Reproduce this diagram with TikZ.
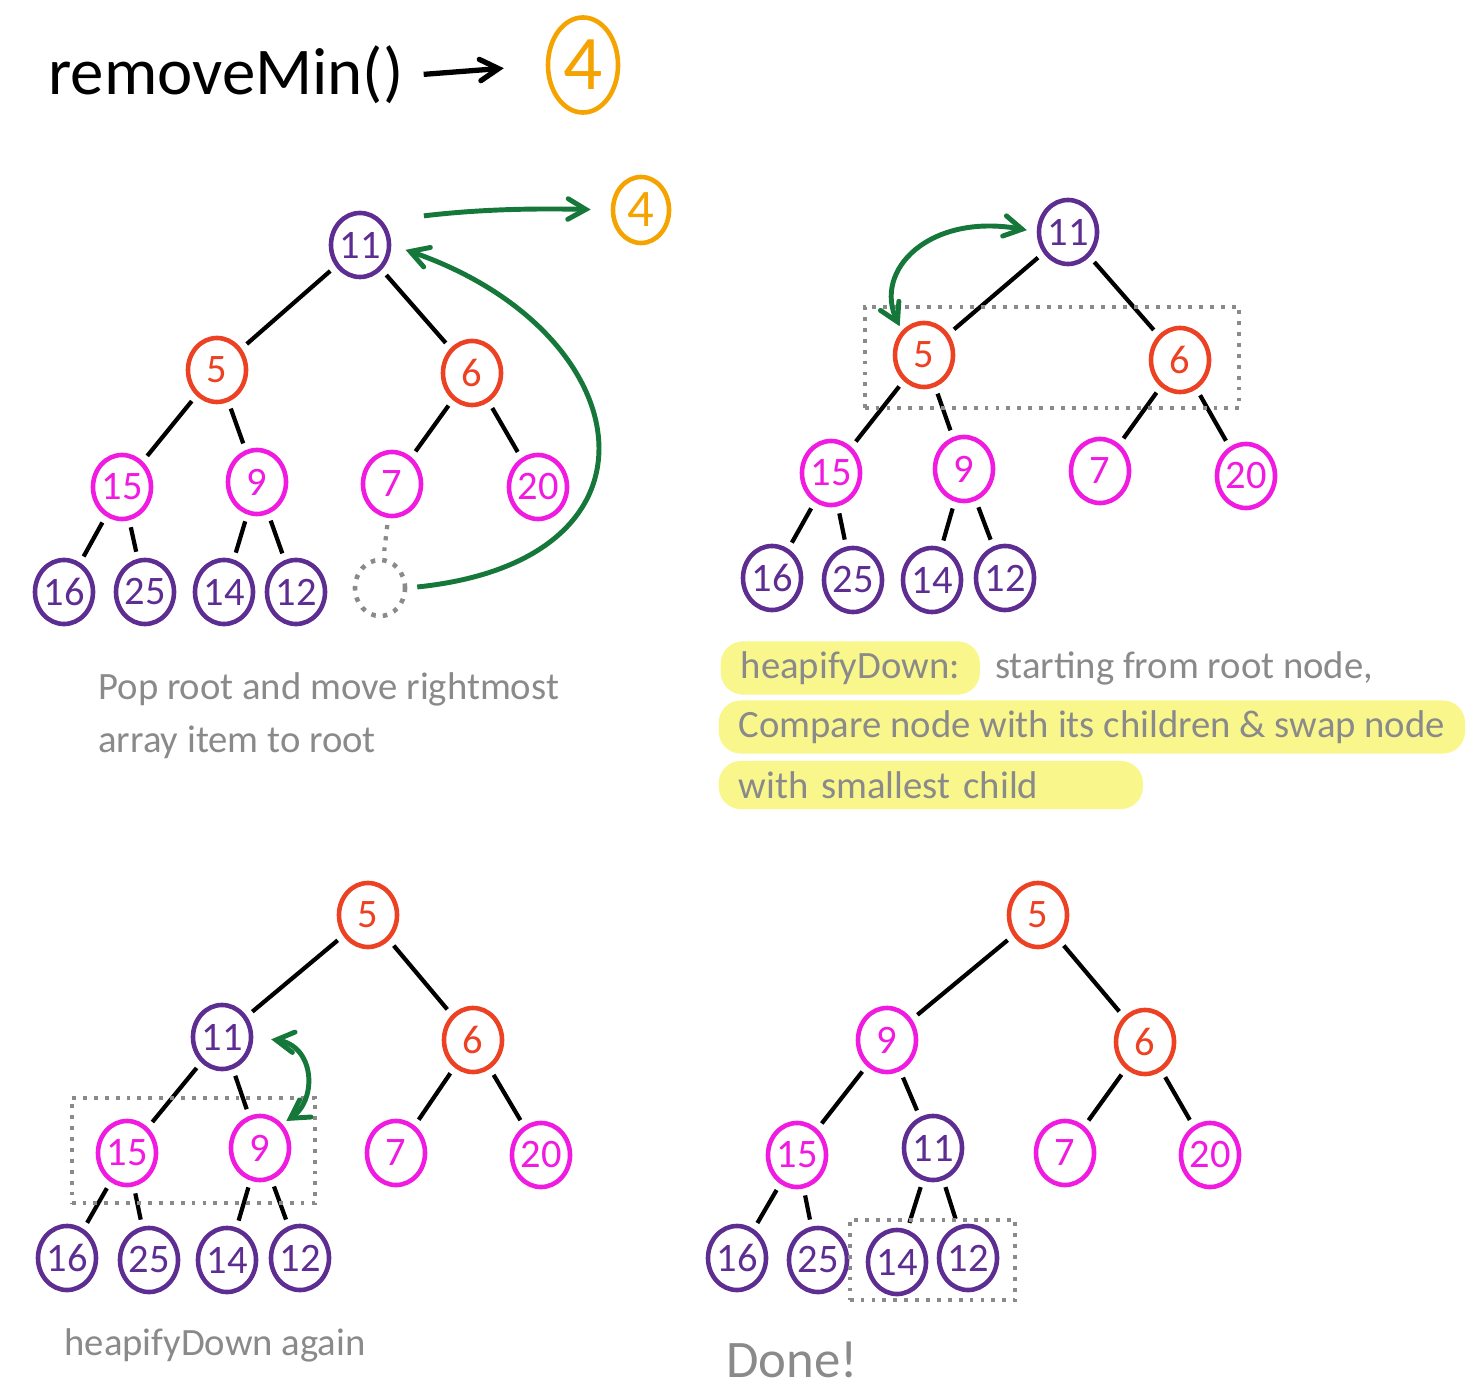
\documentclass[tikz,border=0pt]{standalone}
\usepackage{fontspec}
\setmainfont{Carlito}
\usetikzlibrary{positioning, arrows, shapes.geometric, fit}
\definecolor{minpurple}{HTML}{5E2D91}
\definecolor{minred}{HTML}{EC4123}
\definecolor{minpink}{HTML}{F01AE0}
\definecolor{minorange}{HTML}{F5A300}
\definecolor{mingreen}{HTML}{16773A}
\definecolor{notegray}{HTML}{8A8A8A}
\definecolor{hlyellow}{HTML}{F9F78C}
\tikzset{
>=angle 60, % open arrow heads, like the pen ones
heap/.style={ellipse, draw, line width=1.3pt, minimum width=0.58cm, minimum height=0.64cm, inner sep=0pt, font=\fontsize{11.5}{12}\selectfont}, % every number of the heap
purplenode/.style={heap, draw=minpurple, text=minpurple},
rednode/.style={heap, draw=minred, text=minred},
pinknode/.style={heap, draw=minpink, text=minpink},
popped/.style={heap, draw=minorange, text=minorange}, % the removed minimum
tree/.style={line width=1.2pt, shorten <=2pt, shorten >=2pt}, % parent -- child
swaparrow/.style={->, draw=mingreen, line width=1.4pt}, % green moves
dotbox/.style={draw=notegray, dotted, line width=1.1pt, inner sep=0pt}, % compared nodes
note/.style={text=notegray, font=\fontsize{11}{15}\selectfont}, % grey remarks
hl/.style={fill=hlyellow, rounded corners=0.22cm, inner xsep=0.2cm, inner ysep=0.1cm, minimum height=0.48cm}, % marker pen
}
\begin{document}
\begin{tikzpicture}[x=0.01cm, y=-0.01cm]
    \useasboundingbox (0,0) rectangle (1477,1398);

    % title
    \node[anchor=west, font=\fontsize{19}{19}\selectfont] (title) at (36,75) {removeMin()};
    \node[popped, minimum width=0.7cm, minimum height=0.95cm, font=\fontsize{22}{22}\selectfont] (t4) at (583,65) {4};
    \draw[->, line width=1.5pt, shorten <=0.08cm, shorten >=0.42cm] (title.east) -- (t4.west);

    % pop root, move last item up
    \node[purplenode] (a1) at (360,245) {11};
    \node[rednode] (a2) at (217,370) {5};
    \node[rednode] (a3) at (472,373) {6};
    \node[pinknode] (a4) at (122,487) {15};
    \node[pinknode] (a5) at (257,482) {9};
    \node[pinknode] (a6) at (392,484) {7};
    \node[pinknode] (a7) at (538,487) {20};
    \node[purplenode] (a8) at (64,592) {16};
    \node[purplenode] (a9) at (145,592) {25};
    \node[purplenode] (a10) at (224,592) {14};
    \node[purplenode] (a11) at (296,592) {12};
    \node[heap, draw=notegray, dotted, minimum width=0.5cm, minimum height=0.56cm] (a12) at (380,588) {};
    \node[popped, minimum width=0.56cm, minimum height=0.66cm, font=\fontsize{15}{15}\selectfont] (aout) at (641,210) {4};

    \draw[tree]
    (a1) edge (a2) (a1) edge (a3)
    (a2) edge (a4) (a2) edge (a5)
    (a3) edge (a6) (a3) edge (a7)
    (a4) edge (a8) (a4) edge (a9)
    (a5) edge (a10) (a5) edge (a11);
    \draw[tree, notegray, dotted] (a6) -- (a12);

    \draw[swaparrow, shorten <=0.42cm, shorten >=0.2cm] (a1.north east) to[bend left=4] (aout.west);
    \draw[swaparrow, shorten <=0.1cm, shorten >=0.15cm] (a12.east) .. controls (680,560) and (640,330) .. (a1.east);

    \node[note, anchor=north west, align=left] (poptext) at (86,660) {Pop root and move rightmost\\array item to root};

    % first heapifyDown step
    \node[purplenode] (b1) at (1068,232) {11};
    \node[rednode] (b2) at (924,355) {5};
    \node[rednode] (b3) at (1180,360) {6};
    \node[pinknode] (b4) at (831,473) {15};
    \node[pinknode] (b5) at (964,469) {9};
    \node[pinknode] (b6) at (1100,471) {7};
    \node[pinknode] (b7) at (1246,476) {20};
    \node[purplenode] (b8) at (772,578) {16};
    \node[purplenode] (b9) at (853,580) {25};
    \node[purplenode] (b10) at (932,580) {14};
    \node[purplenode] (b11) at (1005,578) {12};

    \draw[tree]
    (b1) edge (b2) (b1) edge (b3)
    (b2) edge (b4) (b2) edge (b5)
    (b3) edge (b6) (b3) edge (b7)
    (b4) edge (b8) (b4) edge (b9)
    (b5) edge (b10) (b5) edge (b11);

    \node[dotbox, fit=(b2)(b3), inner xsep=0.28cm, inner ysep=0.14cm] (bbox) {};
    \draw[swaparrow, <->, shorten <=0.1cm, shorten >=0.05cm] (b1.west) .. controls (930,212) and (872,270) .. (b2.north west);

    \node[note, hl, anchor=west] (hl1) at (720,668) {heapifyDown:};
    \node[note, right=0.02cm of hl1] (start) {starting from root node,};
    \node[note, hl, anchor=west] (hl2) at (718,727) {Compare node with its children \& swap node};
    \node[note, hl, anchor=west, text width=3.84cm, align=left] (hl3) at (718,785) {with smallest child};

    % second heapifyDown step
    \node[rednode] (c1) at (368,915) {5};
    \node[purplenode] (c2) at (222,1037) {11};
    \node[rednode] (c3) at (473,1040) {6};
    \node[pinknode] (c4) at (127,1153) {15};
    \node[pinknode] (c5) at (260,1148) {9};
    \node[pinknode] (c6) at (396,1153) {7};
    \node[pinknode] (c7) at (541,1155) {20};
    \node[purplenode] (c8) at (67,1258) {16};
    \node[purplenode] (c9) at (149,1260) {25};
    \node[purplenode] (c10) at (227,1260) {14};
    \node[purplenode] (c11) at (300,1258) {12};

    \draw[tree]
    (c1) edge (c2) (c1) edge (c3)
    (c2) edge (c4) (c2) edge (c5)
    (c3) edge (c6) (c3) edge (c7)
    (c4) edge (c8) (c4) edge (c9)
    (c5) edge (c10) (c5) edge (c11);

    \node[dotbox, fit=(c4)(c5), inner xsep=0.24cm, inner ysep=0.16cm] (cbox) {};
    \draw[swaparrow, <->, shorten <=0.18cm, shorten >=0.05cm] (c2.east) .. controls (315,1045) and (318,1100) .. (c5.north east);

    \node[note, anchor=west] (againtext) at (52,1345) {heapifyDown again};

    % heap restored
    \node[rednode] (d1) at (1038,915) {5};
    \node[pinknode] (d2) at (887,1040) {9};
    \node[rednode] (d3) at (1145,1042) {6};
    \node[pinknode] (d4) at (797,1155) {15};
    \node[purplenode] (d5) at (933,1148) {11};
    \node[pinknode] (d6) at (1065,1153) {7};
    \node[pinknode] (d7) at (1210,1155) {20};
    \node[purplenode] (d8) at (737,1258) {16};
    \node[purplenode] (d9) at (818,1260) {25};
    \node[purplenode] (d10) at (897,1262) {14};
    \node[purplenode] (d11) at (968,1258) {12};

    \draw[tree]
    (d1) edge (d2) (d1) edge (d3)
    (d2) edge (d4) (d2) edge (d5)
    (d3) edge (d6) (d3) edge (d7)
    (d4) edge (d8) (d4) edge (d9)
    (d5) edge (d10) (d5) edge (d11);

    \node[dotbox, fit=(d10)(d11), inner xsep=0.16cm, inner ysep=0.04cm] (dbox) {};

    \node[note, anchor=west, font=\fontsize{15}{15}\selectfont] (donetext) at (714,1360) {Done!};
\end{tikzpicture}
\end{document}
